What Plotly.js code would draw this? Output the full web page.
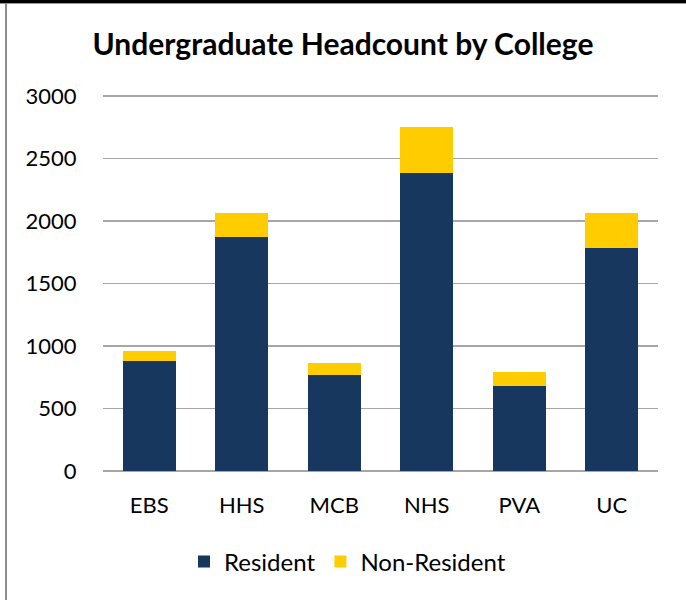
<!DOCTYPE html>
<html>
<head>
<meta charset="utf-8">
<script src="https://cdn.plot.ly/plotly-3.0.1.min.js"></script>
<style>
html,body{margin:0;padding:0;background:#fff;}
#wrap{position:relative;width:686px;height:600px;overflow:hidden;}
#chart{width:686px;height:600px;}
#topb{position:absolute;left:0;top:0;width:686px;height:3px;background:#000;border-bottom:1px solid #999;}
#leftb{position:absolute;left:5px;top:3px;width:2px;height:597px;background:#8c8c8c;}
</style>
</head>
<body>
<div id="wrap">
<div id="chart"></div>
<div id="topb"></div>
<div id="leftb"></div>
</div>
<script>
const colleges = ["EBS", "HHS", "MCB", "NHS", "PVA", "UC"];
const resident = [882, 1872, 768, 2386, 680, 1786];
const nonResident = [78, 192, 96, 368, 112, 278];
const yTicks = [0, 500, 1000, 1500, 2000, 2500, 3000];

const FONT = "Lato, 'Open Sans', sans-serif";

const traces = [
  {type: "bar", name: "Resident", x: colleges, y: resident,
   marker: {color: "#17375e"}},
  {type: "bar", name: "Non-Resident", x: colleges, y: nonResident,
   marker: {color: "#ffcc00"}}
];

const layout = {
  width: 686, height: 600,
  barmode: "stack",
  bargap: 0.43,
  paper_bgcolor: "#fff", plot_bgcolor: "#fff",
  margin: {l: 103, r: 28, t: 94, b: 129, pad: 0},
  font: {family: FONT, size: 22, color: "#000"},
  title: {text: "<b>Undergraduate Headcount by College</b>",
          font: {family: FONT, size: 30, color: "#000"},
          x: 0.5, xanchor: "center", y: 1 - 44/600, yanchor: "middle"},
  xaxis: {type: "category", showgrid: false, zeroline: false, showline: false,
          ticks: "outside", ticklen: 15, tickcolor: "rgba(0,0,0,0)",
          tickfont: {family: FONT, size: 22, color: "#000"}},
  yaxis: {range: [0, 3016], tickvals: yTicks, ticktext: yTicks.map(String),
          showgrid: true, gridcolor: "#a6a6a6", gridwidth: 1.5,
          zeroline: true, zerolinecolor: "#a6a6a6", zerolinewidth: 1.5,
          showline: false, ticks: "outside", ticklen: 21, tickcolor: "rgba(0,0,0,0)",
          tickfont: {family: FONT, size: 22, color: "#000"}},
  legend: {orientation: "h", x: (184-103)/555, xanchor: "left", y: (471-562)/377, yanchor: "middle",
           font: {family: FONT, size: 24, color: "#000"}, traceorder: "normal",
           itemwidth: 30},
  showlegend: true
};

Plotly.newPlot("chart", traces, layout, {displayModeBar: false, staticPlot: true});
</script>
</body>
</html>
